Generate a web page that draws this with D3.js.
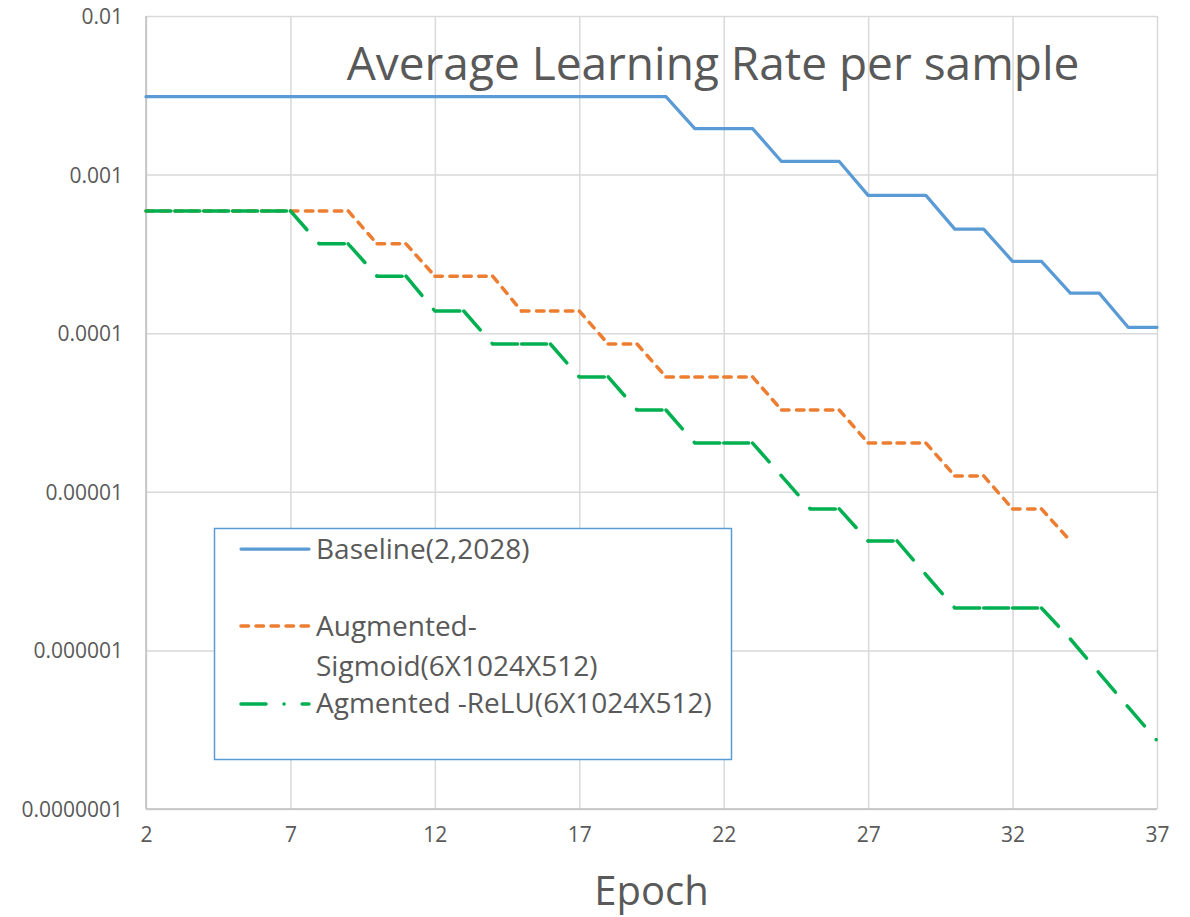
<!DOCTYPE html>
<html>
<head>
<meta charset="utf-8">
<script src="https://cdn.jsdelivr.net/npm/d3@7"></script>
<style>
  html, body { margin: 0; padding: 0; background: #fff; }
  svg { display: block; font-family: "Open Sans", sans-serif; }
</style>
</head>
<body>
<svg id="chart" width="1190" height="917"></svg>
<script>
// Epoch axis
const epochs = d3.range(2, 38);            // 2 .. 37
const xTickValues = [2, 7, 12, 17, 22, 27, 32, 37];

// Log axis ticks and their printed labels
const yTickValues = [1e-2, 1e-3, 1e-4, 1e-5, 1e-6, 1e-7];
const yTickLabels = ["0.01", "0.001", "0.0001", "0.00001", "0.000001", "0.0000001"];

// Average learning rate per sample, one value per epoch starting at epoch 2
const baseline = [
  0.0031, 0.0031, 0.0031, 0.0031, 0.0031, 0.0031, 0.0031, 0.0031, 0.0031, 0.0031,
  0.0031, 0.0031, 0.0031, 0.0031, 0.0031, 0.0031, 0.0031, 0.0031, 0.0031,   // 2-20
  0.00195, 0.00195, 0.00195,                                                 // 21-23
  0.00121, 0.00121, 0.00121,                                                 // 24-26
  0.00074, 0.00074, 0.00074,                                                 // 27-29
  0.000453, 0.000453,                                                        // 30-31
  0.000284, 0.000284,                                                        // 32-33
  0.000179, 0.000179,                                                        // 34-35
  0.000109, 0.000109                                                         // 36-37
];

const sigmoid = [
  0.00059, 0.00059, 0.00059, 0.00059, 0.00059, 0.00059, 0.00059, 0.00059,    // 2-9
  0.000366, 0.000366,                                                        // 10-11
  0.000229, 0.000229, 0.000229,                                              // 12-14
  0.000138, 0.000138, 0.000138,                                              // 15-17
  0.0000855, 0.0000855,                                                      // 18-19
  0.000053, 0.000053, 0.000053, 0.000053,                                    // 20-23
  0.0000328, 0.0000328, 0.0000328,                                           // 24-26
  0.0000203, 0.0000203, 0.0000203,                                           // 27-29
  0.0000126, 0.0000126,                                                      // 30-31
  0.0000078, 0.0000078,                                                      // 32-33
  0.0000049                                                                  // 34
];

const relu = [
  0.00059, 0.00059, 0.00059, 0.00059, 0.00059, 0.00059,                      // 2-7
  0.000366, 0.000366,                                                        // 8-9
  0.000229, 0.000229,                                                        // 10-11
  0.000138, 0.000138,                                                        // 12-13
  0.0000855, 0.0000855, 0.0000855,                                           // 14-16
  0.000053, 0.000053,                                                        // 17-18
  0.0000328, 0.0000328,                                                      // 19-20
  0.0000203, 0.0000203, 0.0000203,                                           // 21-23
  0.0000126,                                                                 // 24
  0.0000078, 0.0000078,                                                      // 25-26
  0.0000049, 0.0000049,                                                      // 27-28
  0.000003,                                                                  // 29
  0.00000185, 0.00000185, 0.00000185, 0.00000185,                            // 30-33
  0.00000118, 0.00000072, 0.00000044, 0.00000027                             // 34-37
];

const seriesNames = ["Baseline(2,2028)", "Augmented-\nSigmoid(6X1024X512)", "Agmented -ReLU(6X1024X512)"];

// ---- drawing ----
const svg = d3.select("#chart");
const plot = { left: 146, right: 1157, top: 16, bottom: 809 };

const x = d3.scaleLinear().domain([2, 37]).range([plot.left, plot.right]);
const y = d3.scaleLog().domain([1e-7, 1e-2]).range([plot.bottom, plot.top]);

const textColor = "#595959";
const gridColor = "#D9D9D9";
const axisColor = "#BFBFBF";

// vertical grid lines
svg.append("g")
  .attr("transform", `translate(0,${plot.bottom})`)
  .call(d3.axisBottom(x).tickValues(xTickValues).tickSize(-(plot.bottom - plot.top)).tickFormat(""))
  .call(g => g.select(".domain").remove())
  .call(g => g.selectAll("line").attr("stroke", gridColor).attr("stroke-width", 1.5));

// horizontal grid lines
svg.append("g")
  .attr("transform", `translate(${plot.left},0)`)
  .call(d3.axisLeft(y).tickValues(yTickValues).tickSize(-(plot.right - plot.left)).tickFormat(""))
  .call(g => g.select(".domain").remove())
  .call(g => g.selectAll("line").attr("stroke", gridColor).attr("stroke-width", 1.5));

// axis lines
svg.append("line")
  .attr("x1", plot.left).attr("x2", plot.left)
  .attr("y1", plot.top).attr("y2", plot.bottom)
  .attr("stroke", axisColor).attr("stroke-width", 1.5);
svg.append("line")
  .attr("x1", plot.left).attr("x2", plot.right)
  .attr("y1", plot.bottom).attr("y2", plot.bottom)
  .attr("stroke", axisColor).attr("stroke-width", 1.5);

// y tick labels
svg.append("g")
  .attr("transform", `translate(${plot.left},0)`)
  .call(d3.axisLeft(y).tickValues(yTickValues).tickSize(0).tickPadding(23)
        .tickFormat((d, i) => yTickLabels[i]))
  .call(g => g.select(".domain").remove())
  .call(g => g.selectAll("text")
        .attr("fill", textColor)
        .style("font-family", "'Open Sans', sans-serif")
        .style("font-size", "21px")
        .attr("dy", "0.36em"));

// x tick labels
svg.append("g")
  .attr("transform", `translate(0,${plot.bottom})`)
  .call(d3.axisBottom(x).tickValues(xTickValues).tickSize(0).tickPadding(18))
  .call(g => g.select(".domain").remove())
  .call(g => g.selectAll("text")
        .attr("fill", textColor)
        .style("font-family", "'Open Sans', sans-serif")
        .style("font-size", "21px"));

// series styles
const styles = [
  { color: "#5B9BD5", width: 3.25, dash: null },
  { color: "#ED7D31", width: 3.5, dash: "7.5 7.5" },
  { color: "#00B050", width: 3.5, dash: "25 18 0.1 18" }
];
const seriesData = [baseline, sigmoid, relu];

const line = d3.line().x(d => x(d[0])).y(d => y(d[1]));

const lines = svg.append("g");
seriesData.forEach((vals, s) => {
  const pts = vals.map((v, i) => [epochs[i], v]);
  const st = styles[s];
  if (!st.dash) {
    lines.append("path")
      .attr("d", line(pts))
      .attr("fill", "none")
      .attr("stroke", st.color)
      .attr("stroke-width", st.width)
      .attr("stroke-linecap", "round")
      .attr("stroke-linejoin", "round");
  } else {
    // dash pattern restarts on every segment between consecutive epochs
    for (let i = 0; i < pts.length - 1; i++) {
      lines.append("path")
        .attr("d", line([pts[i], pts[i + 1]]))
        .attr("fill", "none")
        .attr("stroke", st.color)
        .attr("stroke-width", st.width)
        .attr("stroke-dasharray", st.dash)
        .attr("stroke-linecap", "round");
    }
  }
});

// title
svg.append("text")
  .attr("x", 713).attr("y", 80)
  .attr("text-anchor", "middle")
  .attr("fill", textColor)
  .style("font-size", "46px")
  .text("Average Learning Rate per sample");

// x axis title
svg.append("text")
  .attr("x", (plot.left + plot.right) / 2).attr("y", 905)
  .attr("text-anchor", "middle")
  .attr("fill", textColor)
  .style("font-size", "40px")
  .text("Epoch");

// legend
const legend = svg.append("g");
legend.append("rect")
  .attr("x", 214.5).attr("y", 528.5)
  .attr("width", 517).attr("height", 231)
  .attr("fill", "#fff")
  .attr("stroke", "#5B9BD5")
  .attr("stroke-width", 1.5);

const legendRows = [
  { lineY: 549, textY: [559] },
  { lineY: 626, textY: [636, 676] },
  { lineY: 704, textY: [713] }
];
legendRows.forEach((row, s) => {
  const st = styles[s];
  legend.append("line")
    .attr("x1", 241).attr("x2", 309)
    .attr("y1", row.lineY).attr("y2", row.lineY)
    .attr("stroke", st.color)
    .attr("stroke-width", st.width)
    .attr("stroke-linecap", "round")
    .attr("stroke-dasharray", st.dash);
  const parts = seriesNames[s].split("\n");
  parts.forEach((p, j) => {
    legend.append("text")
      .attr("x", 316).attr("y", row.textY[j])
      .attr("fill", textColor)
      .style("font-size", "28px")
      .text(p);
  });
});
</script>
</body>
</html>
